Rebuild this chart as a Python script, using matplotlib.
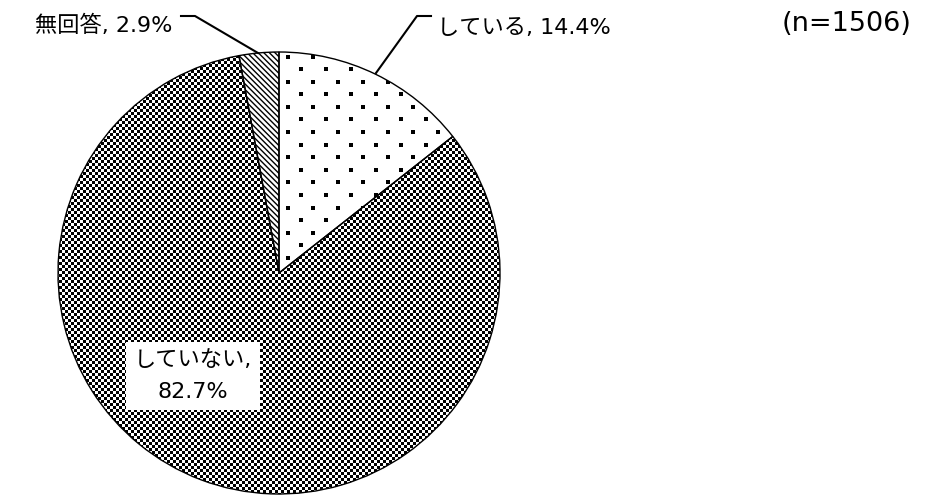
import numpy as np
import matplotlib.pyplot as plt

plt.rcParams['font.family'] = ['DejaVu Sans', 'Noto Sans CJK JP']

labels = ['している', 'していない', '無回答']
shares = [14.4, 82.7, 2.9]
n_total = 1506

fig = plt.figure(figsize=(9.34, 4.97), dpi=100)
ax = fig.add_axes([0, 0, 1, 1])

cx, cy, r = 279, 273, 221
wedges, _ = ax.pie(shares, startangle=90, counterclock=False, center=(cx, cy),
                   radius=r, colors=['white'] * 3,
                   wedgeprops=dict(edgecolor='black', linewidth=1.0))
ax.axis('off')

# y axis is flipped, so re-run the wedges clockwise from the top
ang = 90.0
for w, s in zip(wedges, shares):
    sweep = s / 100 * 360
    w.set_theta1(-ang)
    w.set_theta2(-ang + sweep)
    ang -= sweep
for w in wedges:
    w.set_zorder(2)
    w.set_facecolor('none')

plt.rcParams['hatch.linewidth'] = 1.8
wedges[2].set_hatch('\\\\\\\\\\\\')

# checkerboard fill for the big slice
cell = 3
size = 2 * r // cell + 4
yy, xx = np.indices((size, size))
board = (xx + yy) % 2
half = size * cell / 2
im = ax.imshow(board, cmap='gray', interpolation='nearest', vmin=0, vmax=1,
               extent=(cx - half, cx + half, cy + half, cy - half), zorder=1)
im.set_clip_path(wedges[1])

# staggered dot fill for the small slice
gx, gy = 25, 12.6
pts = []
for j, y in enumerate(np.arange(cy - r + 4.5, cy + r, gy)):
    off = 0 if j % 2 == 0 else gx / 2
    for x in np.arange(cx + 9 + off, cx + r, gx):
        pts.append((x, y))
pts = np.array(pts)
dots = ax.scatter(pts[:, 0], pts[:, 1], marker='s', s=4.7, color='black',
                  linewidths=0, zorder=1)
dots.set_clip_path(wedges[0])

ax.set_xlim(0, 934)
ax.set_ylim(497, 0)

fs = 16
ax.text(437, 28, f'{labels[0]}, {shares[0]}%', fontsize=fs, va='center', ha='left')
ax.plot([431, 417, 376], [16, 16, 73], color='black', lw=1.5)

ax.text(172, 25, f'{labels[2]}, {shares[2]}%', fontsize=fs, va='center', ha='right')
ax.plot([181, 195, 258], [16, 16, 53], color='black', lw=1.5)

ax.text(193, 376, f'{labels[1]},\n{shares[1]}%', fontsize=fs, va='center', ha='center',
        linespacing=1.75,
        bbox=dict(boxstyle='square,pad=0.35', facecolor='white', edgecolor='none'))

ax.text(847, 24, f'(n={n_total})', fontsize=19.5, va='center', ha='center')

fig.savefig('out.png', dpi=100)
